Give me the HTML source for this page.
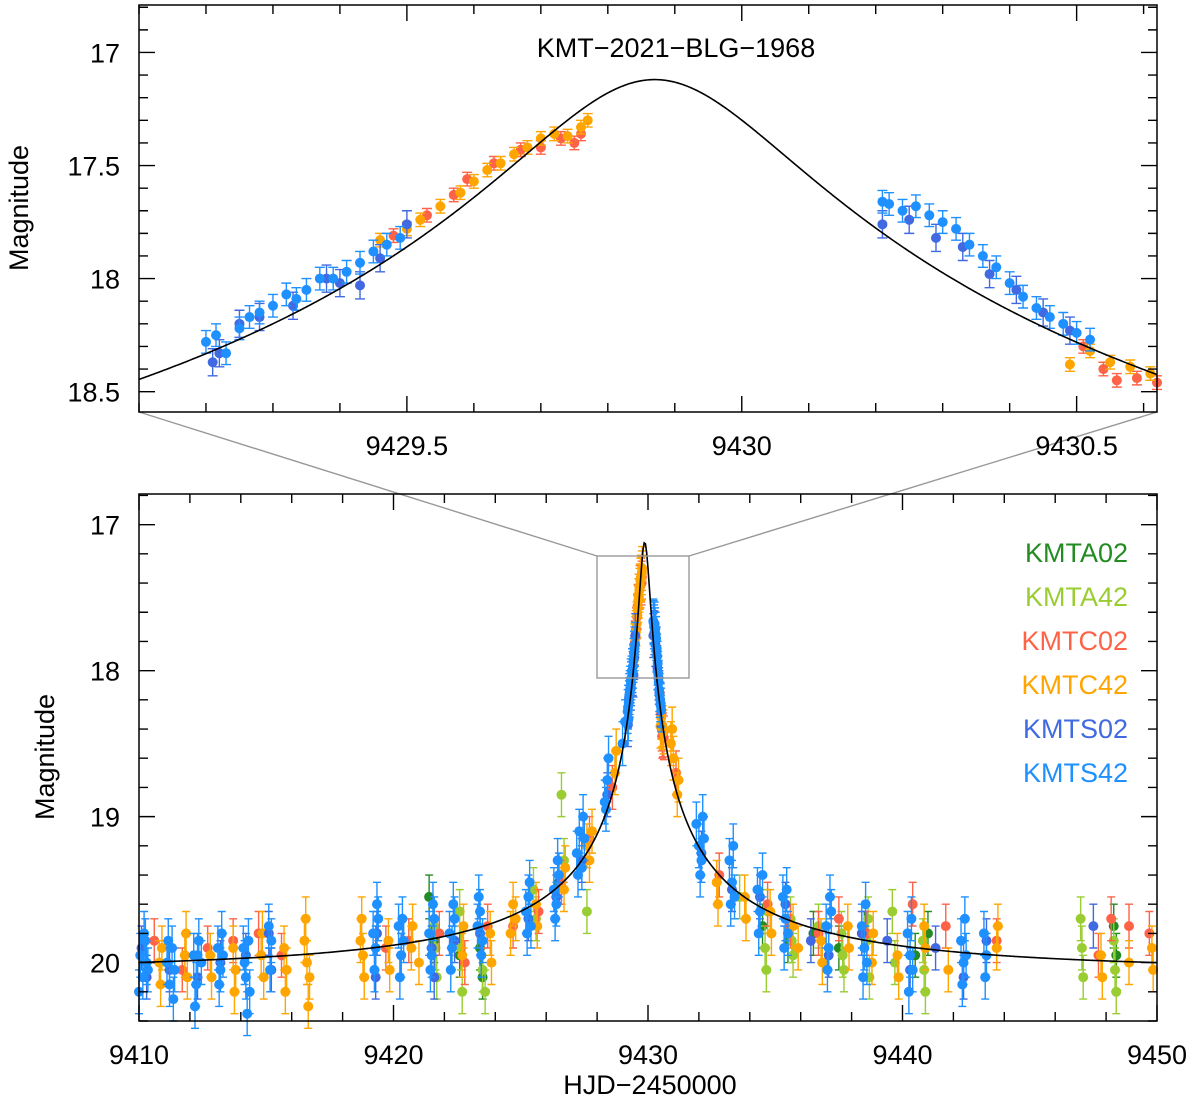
<!DOCTYPE html>
<html><head><meta charset="utf-8"><style>
html,body{margin:0;padding:0;background:#fff}
svg{display:block}
text{font-family:"Liberation Sans",sans-serif}
</style></head><body>
<svg id="chart" width="1200" height="1108" viewBox="0 0 1200 1108" xmlns="http://www.w3.org/2000/svg">
<g id="bot-g"></g>
<g id="top-g"></g>
<g id="conn-g"></g>
<g id="axes-g"></g>
<text x="676" y="57" font-size="27" text-anchor="middle">KMT−2021−BLG−1968</text>
<text transform="translate(28,208) rotate(-90)" font-size="27" text-anchor="middle">Magnitude</text>
<text transform="translate(54,757) rotate(-90)" font-size="27" text-anchor="middle">Magnitude</text>
<text x="650" y="1094" font-size="27" text-anchor="middle">HJD−2450000</text>
<g font-size="27" text-anchor="end">
<text x="1128" y="562" fill="#228b22">KMTA02</text>
<text x="1128" y="606" fill="#9acd32">KMTA42</text>
<text x="1128" y="650" fill="#ff6347">KMTC02</text>
<text x="1128" y="694" fill="#ffa500">KMTC42</text>
<text x="1128" y="738" fill="#4169e1">KMTS02</text>
<text x="1128" y="782" fill="#1e90ff">KMTS42</text>
</g>
</svg>
<script>
// ---- data ----
const modelT0 = 9429.87, modelU0 = 0.01, modelTE = 20, modelFs = 0.14, modelBase = 20.05;
const topS42 = [[9429.20,18.28],[9429.215,18.25],[9429.23,18.33],[9429.25,18.22],[9429.265,18.17],[9429.28,18.15],[9429.30,18.12],[9429.32,18.07],[9429.335,18.09],[9429.35,18.05],[9429.37,18.0],[9429.39,18.0],[9429.41,17.97],[9429.43,17.93],[9429.45,17.88],[9429.47,17.85],[9429.49,17.82],
 [9430.21,17.66],[9430.22,17.67],[9430.24,17.7],[9430.26,17.68],[9430.28,17.72],[9430.3,17.75],[9430.32,17.78],[9430.34,17.85],[9430.36,17.9],[9430.38,17.95],[9430.4,18.02],[9430.42,18.08],[9430.44,18.13],[9430.46,18.17],[9430.48,18.2],[9430.5,18.24],[9430.52,18.27]];
const topS02 = [[9429.21,18.37],[9429.22,18.33],[9429.25,18.2],[9429.28,18.17],[9429.33,18.12],[9429.38,18.0],[9429.4,18.02],[9429.43,18.03],[9429.46,17.91],[9429.5,17.76],
 [9430.21,17.76],[9430.25,17.74],[9430.29,17.82],[9430.33,17.86],[9430.37,17.98],[9430.41,18.05],[9430.45,18.15],[9430.49,18.23]];
const topC42 = [[9429.46,17.83],[9429.5,17.78],[9429.52,17.74],[9429.55,17.68],[9429.58,17.62],[9429.6,17.57],[9429.62,17.52],[9429.64,17.49],[9429.66,17.45],[9429.68,17.42],[9429.7,17.38],[9429.72,17.36],[9429.74,17.37],[9429.76,17.33],[9429.77,17.3],
 [9430.49,18.38],[9430.52,18.32],[9430.55,18.37],[9430.58,18.39],[9430.61,18.42]];
const topC02 = [[9429.48,17.81],[9429.53,17.72],[9429.57,17.63],[9429.59,17.56],[9429.63,17.49],[9429.67,17.43],[9429.7,17.42],[9429.73,17.38],[9429.75,17.4],[9429.76,17.36],
 [9430.51,18.3],[9430.54,18.4],[9430.56,18.45],[9430.59,18.44],[9430.62,18.46]];
const botS42 = [[9410.05,19.95],[9410.15,20.1],[9410.25,19.85],[9410.35,20.05],[9411.1,20.0],[9411.2,20.15],[9411.3,19.9],[9411.4,20.05],[9412.15,19.95],[9412.25,20.15],[9412.35,19.85],[9412.45,20.0],[9413.1,19.9],[9413.2,20.05],[9413.3,19.95],[9414.1,19.9],[9414.2,20.1],[9414.3,19.85],[9414.35,20.2],[9415.1,19.75],[9415.2,19.85],[9419.2,19.8],[9419.3,19.9],[9419.4,19.7],[9420.2,19.75],[9420.3,19.95],[9420.4,19.85],[9421.4,19.8],[9421.5,19.95],[9421.6,19.7],[9422.2,19.8],[9422.3,19.9],[9422.4,19.7],[9423.3,19.75],[9423.4,19.65],[9423.5,19.85],[9425.2,19.65],[9425.3,19.55],[9425.4,19.75],[9426.3,19.5],[9426.4,19.6],[9426.5,19.4],[9427.2,19.25],[9427.3,19.1],[9427.4,19.35],[9427.5,19.15],[9428.3,18.9],[9428.4,18.75],[9429.0,18.5],[9429.1,18.35],[9431.9,19.05],[9432.0,19.2],[9432.1,19.3],[9432.2,19.15],[9433.2,19.3],[9433.3,19.45],[9433.4,19.55],[9434.3,19.5],[9434.4,19.65],[9434.5,19.4],[9435.3,19.55],[9435.4,19.7],[9435.5,19.8],[9437.0,19.75],[9437.1,19.9],[9437.2,19.65],[9438.4,19.75],[9438.5,19.9],[9438.6,20.0],[9440.2,19.8],[9440.3,19.95],[9440.4,20.05],[9442.3,19.85],[9442.4,20.0],[9442.5,19.95],[9443.2,19.8],[9443.3,19.95],
 [9410.0,20.2],[9410.2,19.8],[9410.3,20.0],[9411.15,19.85],[9411.35,20.25],[9412.2,20.3],[9412.3,19.95],[9413.15,20.15],[9413.25,19.8],[9414.15,20.0],[9414.25,20.35],[9415.15,20.05],[9419.25,20.05],[9419.35,19.6],[9420.25,20.1],[9420.35,19.7],[9421.45,20.05],[9421.55,19.6],[9422.25,20.05],[9422.35,19.6],[9423.35,19.55],[9423.45,19.95],[9425.25,19.8],[9425.35,19.45],[9426.35,19.7],[9426.45,19.3],[9427.25,19.4],[9427.45,19.0],[9428.35,18.95],[9428.45,18.6],[9432.05,19.4],[9432.15,19.0],[9433.25,19.6],[9433.35,19.2],[9434.35,19.8],[9435.35,19.9],[9435.45,19.5],[9437.05,20.05],[9437.15,19.55],[9438.45,20.1],[9438.55,19.6],[9440.25,20.2],[9440.35,19.7],[9442.35,20.15],[9442.45,19.7],[9443.25,20.1]];
const botS02 = [[9410.1,19.9],[9410.3,20.1],[9411.2,20.05],[9412.3,20.1],[9413.2,20.0],[9414.2,19.95],[9415.1,19.8],[9415.2,20.05],[9419.3,20.1],[9419.35,19.8],[9420.3,19.95],[9421.5,19.9],[9421.6,20.1],[9422.4,19.85],[9423.4,19.8],[9425.3,19.7],[9426.4,19.55],[9427.4,19.3],[9428.4,18.85],[9432.1,19.25],[9433.3,19.5],[9434.4,19.55],[9435.4,19.6],[9436.4,19.85],[9437.1,19.95],[9438.4,19.8],[9439.4,19.85],[9440.3,20.05],[9441.3,19.9],[9442.4,20.1],[9443.3,19.85],[9447.5,19.75]];
const botC42 = [[9410.8,20.0],[9410.9,19.9],[9411.8,19.95],[9411.9,20.1],[9412.8,19.95],[9413.7,19.9],[9413.8,20.05],[9414.8,19.95],[9414.9,20.1],[9415.7,19.9],[9415.8,20.05],[9416.5,19.85],[9416.6,20.0],[9416.7,20.1],[9418.7,19.85],[9418.8,19.95],[9419.8,19.85],[9420.7,19.9],[9421.0,20.0],[9422.7,19.95],[9423.8,19.8],[9424.6,19.8],[9424.8,19.7],[9425.6,19.6],[9426.7,19.5],[9427.6,19.2],[9427.8,19.1],[9428.7,18.7],[9430.9,18.5],[9431.0,18.6],[9431.2,18.75],[9432.7,19.45],[9433.8,19.55],[9434.8,19.65],[9435.7,19.75],[9435.9,19.9],[9436.8,19.85],[9437.9,19.9],[9438.8,20.0],[9439.8,19.95],[9440.9,19.9],[9441.8,20.05],[9443.7,19.9],[9447.8,19.95],[9448.9,20.0],[9449.8,19.9],
 [9410.85,20.15],[9411.85,19.8],[9412.85,20.1],[9413.75,20.2],[9414.85,19.8],[9415.75,20.2],[9416.55,19.7],[9416.65,20.3],[9418.75,19.7],[9418.85,20.1],[9419.85,20.05],[9420.75,19.75],[9422.75,19.75],[9423.85,20.0],[9424.7,19.6],[9425.65,19.75],[9426.75,19.35],[9427.7,19.3],[9428.75,18.55],[9430.95,18.4],[9431.15,18.85],[9432.75,19.6],[9433.85,19.7],[9434.85,19.8],[9436.85,20.0],[9437.85,19.75],[9438.85,19.8],[9439.85,20.1],[9440.85,19.75],[9443.75,19.75],[9447.85,20.1],[9449.85,20.05]];
const botC02 = [[9410.6,19.85],[9411.7,20.05],[9412.7,19.9],[9413.7,19.85],[9414.7,19.8],[9415.6,19.95],[9419.7,19.9],[9420.6,19.85],[9421.8,19.8],[9422.8,20.0],[9423.7,19.75],[9424.7,19.75],[9425.7,19.65],[9426.6,19.45],[9427.7,19.15],[9428.6,18.8],[9431.1,18.7],[9432.8,19.4],[9434.7,19.6],[9435.6,19.75],[9436.7,19.8],[9437.5,19.7],[9438.6,19.8],[9440.4,19.6],[9441.7,19.75],[9443.7,19.85],[9447.7,19.95],[9448.2,19.7],[9448.9,19.75],[9449.7,19.8]];
const botA42 = [[9421.6,19.75],[9421.7,20.1],[9422.6,19.65],[9422.7,20.2],[9423.5,20.05],[9423.6,20.2],[9425.5,19.5],[9425.6,19.7],[9426.6,18.85],[9426.7,19.3],[9427.6,19.65],[9433.6,19.55],[9434.6,19.9],[9434.7,19.65],[9435.6,19.7],[9435.7,19.95],[9436.7,19.75],[9437.6,19.8],[9437.7,20.05],[9438.6,19.85],[9438.7,20.1],[9439.6,19.65],[9439.7,20.0],[9440.8,19.85],[9440.9,20.2],[9447.0,19.7],[9447.1,20.1],[9448.3,19.85],[9448.4,20.2],
 [9421.65,19.9],[9422.65,19.9],[9434.65,20.05],[9435.65,19.85],[9437.65,19.95],[9438.65,19.7],[9440.85,20.05],[9447.05,19.9],[9448.35,20.05]];
const botA02 = [[9421.4,19.55],[9421.6,19.85],[9422.6,19.95],[9423.4,19.9],[9423.5,20.1],[9426.5,19.45],[9434.5,19.75],[9435.5,19.85],[9436.5,19.8],[9437.5,19.9],[9438.5,19.8],[9440.5,19.95],[9441.0,19.8],[9448.3,19.75],[9448.4,19.95]];
const topXTicks = [9429.5, 9430, 9430.5];
const topYTicks = [17, 17.5, 18, 18.5];
const botXTicks = [9410, 9420, 9430, 9440, 9450];
const botYTicks = [17, 18, 19, 20];

// ---- axes ----
const NS = "http://www.w3.org/2000/svg";
const T = {x0:139, x1:1157, y0:5, y1:412, t0:9429.1, t1:9430.62, m0:16.79, m1:18.59};
const B = {x0:139, x1:1157, y0:494, y1:1021, t0:9410, t1:9450, m0:16.79, m1:20.40};
function sx(P,t){return P.x0+(t-P.t0)/(P.t1-P.t0)*(P.x1-P.x0);}
function sy(P,m){return P.y0+(m-P.m0)/(P.m1-P.m0)*(P.y1-P.y0);}
function mk(tag,attrs,parent){const e=document.createElementNS(NS,tag);for(const k in attrs)e.setAttribute(k,attrs[k]);parent.appendChild(e);return e;}
function model(t){const tau=(t-modelT0)/modelTE;const u=Math.sqrt(modelU0*modelU0+tau*tau);const A=(u*u+2)/(u*Math.sqrt(u*u+4));return modelBase-2.5*Math.log10(1+modelFs*(A-1));}

const topG=document.getElementById('top-g'), botG=document.getElementById('bot-g'), axG=document.getElementById('axes-g'), conn=document.getElementById('conn-g');
const colors={A02:'#228b22',A42:'#9acd32',C02:'#ff6347',C42:'#ffa500',S02:'#4169e1',S42:'#1e90ff'};

function drawSeries(P,g,data,col,err,r,cap,name){
  const sg=mk('g',{},g);
  
  
  for(const d of data){
    if(d[0]<P.t0||d[0]>P.t1) continue;
    const x=sx(P,d[0]), y=sy(P,d[1]), ya=sy(P,d[1]-err), yb=sy(P,d[1]+err);
    mk('path',{d:`M${x},${ya}V${yb}M${x-cap},${ya}h${2*cap}M${x-cap},${yb}h${2*cap}`,stroke:col,'stroke-width':1.4,fill:'none'},sg);
    const c=mk('circle',{cx:x,cy:y,r:r,fill:col},sg);
    
    
  }
}
function drawModel(P,g,name){
  let d='';const n=800;
  for(let i=0;i<=n;i++){const t=P.t0+(P.t1-P.t0)*i/n;const y=Math.max(P.y0,Math.min(P.y1,sy(P,model(t))));d+=(i?'L':'M')+sx(P,t).toFixed(2)+','+y.toFixed(2);}
  const p=mk('path',{d:d,stroke:'#000','stroke-width':1.6,fill:'none'},g);
  
  
}
function drawAxes(P,xMaj,xMin,yMaj,yMin,xTicks,yTicks,xfmt,yfmt,labY,pre){
  const fr=mk('rect',{x:P.x0,y:P.y0,width:P.x1-P.x0,height:P.y1-P.y0,fill:'none',stroke:'#000','stroke-width':1.5},axG);
  
  
  let d='';
  for(let t=Math.ceil(P.t0/xMin-1e-6)*xMin;t<=P.t1+1e-9;t+=xMin){
    const x=sx(P,t); const maj=Math.abs(t/xMaj-Math.round(t/xMaj))<1e-6; const L=maj?16:9;
    d+=`M${x},${P.y1}v${-L}M${x},${P.y0}v${L}`;
  }
  for(let m=Math.ceil(P.m0/yMin-1e-6)*yMin;m<=P.m1+1e-9;m+=yMin){
    const y=sy(P,m); const maj=Math.abs(m/yMaj-Math.round(m/yMaj))<1e-6; const L=maj?16:9;
    d+=`M${P.x0},${y}h${L}M${P.x1},${y}h${-L}`;
  }
  mk('path',{d:d,stroke:'#000','stroke-width':1.4,fill:'none'},axG);
  for(const t of xTicks){
    const tx=mk('text',{x:sx(P,t),y:labY,'font-size':27,'text-anchor':'middle'},axG);tx.textContent=xfmt(t);
    
    
  }
  for(const m of yTicks){
    const tx=mk('text',{x:120,y:sy(P,m)+10,'font-size':27,'text-anchor':'end'},axG);tx.textContent=yfmt(m);
    
    
  }
}

// bottom panel
const eB=0.15;
drawSeries(B,botG,botA02,colors.A02,eB,5,4,'series-kmta02');
drawSeries(B,botG,botA42,colors.A42,eB,5,4,'series-kmta42');
drawSeries(B,botG,botC02.concat(topC02),colors.C02,eB,5,4,'series-kmtc02');
drawSeries(B,botG,botC42.concat(topC42),colors.C42,eB,5,4,'series-kmtc42');
drawSeries(B,botG,botS02.concat(topS02),colors.S02,eB,5,4,'series-kmts02');
drawSeries(B,botG,botS42.concat(topS42),colors.S42,eB,5,4,'series-kmts42');
drawModel(B,botG,'bottom-model-curve');
// top panel
drawSeries(T,topG,topC02,colors.C02,0.03,5,5,'top-series-kmtc02');
drawSeries(T,topG,topC42,colors.C42,0.03,5,5,'top-series-kmtc42');
drawSeries(T,topG,topS02,colors.S02,0.06,5,5,'top-series-kmts02');
drawSeries(T,topG,topS42,colors.S42,0.05,5,5,'top-series-kmts42');
drawModel(T,topG,'top-model-curve');

// zoom box and connectors
const zb=mk('rect',{x:597,y:556,width:92,height:122,fill:'none',stroke:'#999','stroke-width':1.4},conn);


mk('path',{d:`M${T.x0},${T.y1}L597,556M${T.x1},${T.y1}L689,556`,stroke:'#999','stroke-width':1.4,fill:'none'},conn);

drawAxes(T,0.5,0.1,0.5,0.1,topXTicks,topYTicks,t=>String(t),m=>String(m),455,'top');
drawAxes(B,10,2,1,0.2,botXTicks,botYTicks,t=>String(t),m=>String(m),1064,'bottom');
</script>
</body></html>
